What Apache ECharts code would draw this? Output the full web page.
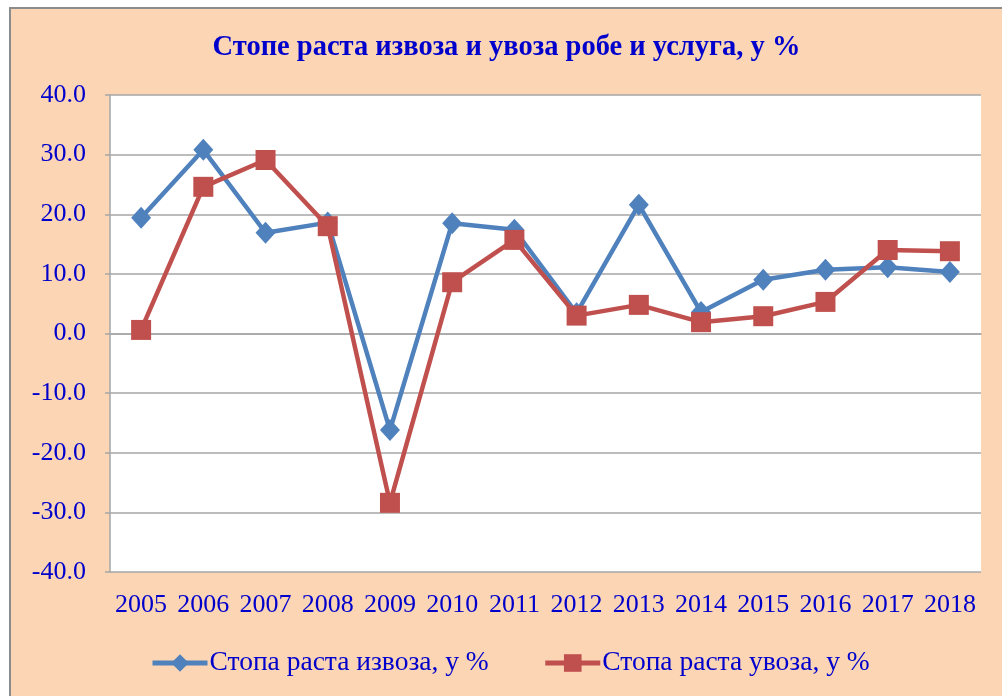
<!DOCTYPE html>
<html>
<head>
<meta charset="utf-8">
<script src="https://cdn.jsdelivr.net/npm/echarts@6/dist/echarts.min.js"></script>
<style>
  html, body { margin: 0; padding: 0; background: #fff; }
  #chart {
    margin-left: 9px;
    margin-top: 7px;
    border-left: 2px solid #8c8c8c;
    border-top: 2px solid #8c8c8c;
    width: 991px;
    height: 687px;
    background: #FCD5B4;
  }
</style>
</head>
<body>
<div id="chart"></div>
<script>
  // godine
  var years = ['2005','2006','2007','2008','2009','2010','2011','2012','2013','2014','2015','2016','2017','2018']
  // stopa rasta izvoza, %
  var exportRate = [19.4, 30.8, 16.9, 18.6, -16.2, 18.5, 17.4, 3.4, 21.6, 3.6, 9.0, 10.7, 11.1, 10.3]
  // stopa rasta uvoza, %
  var importRate = [0.6, 24.6, 29.1, 18.0, -28.4, 8.6, 15.7, 3.0, 4.8, 1.9, 2.9, 5.3, 14.0, 13.8]
  var yTicks = { min: -40, max: 40, interval: 10 }

  var textBlue = '#0000CC'
  var serif = '"Liberation Serif", "DejaVu Serif", serif'

  var chart = echarts.init(document.getElementById('chart'))
  chart.setOption({
    backgroundColor: '#FCD5B4',
    animation: false,
    title: {
      text: 'Стопе раста извоза и увоза робе и услуга, у %',
      left: 'center',
      top: 19,
      textStyle: { color: textBlue, fontFamily: serif, fontSize: 28.5, fontWeight: 'bold' }
    },
    grid: {
      left: 99,
      top: 86,
      right: 21,
      bottom: 124,
      show: true,
      backgroundColor: '#fff',
      borderWidth: 0
    },
    legend: {
      left: 134,
      top: 635,
      itemWidth: 55,
      itemHeight: 22,
      itemGap: 54,
      lineStyle: { width: 5 },
      textStyle: { color: textBlue, fontFamily: serif, fontSize: 27.5, padding: [0, 0, 0, -3] },
      data: ['Стопа раста извоза, у %', 'Стопа раста увоза, у %']
    },
    xAxis: {
      type: 'category',
      data: years,
      boundaryGap: true,
      axisLine: { show: true, lineStyle: { color: '#A6A6A6', width: 1.5 } },
      axisTick: { show: false },
      axisLabel: { color: textBlue, fontFamily: serif, fontSize: 26, margin: 20, interval: 0 }
    },
    yAxis: {
      type: 'value',
      min: yTicks.min,
      max: yTicks.max,
      interval: yTicks.interval,
      axisLine: { show: true, lineStyle: { color: '#A6A6A6', width: 1.5 } },
      axisTick: { show: true, inside: false, length: 5, lineStyle: { color: '#A6A6A6', width: 1.5 } },
      splitLine: { show: true, lineStyle: { color: '#A6A6A6', width: 1.5 } },
      axisLabel: {
        color: textBlue, fontFamily: serif, fontSize: 26, margin: 24,
        formatter: function (v) { return v.toFixed(1) }
      }
    },
    series: [
      {
        name: 'Стопа раста извоза, у %',
        type: 'line',
        data: exportRate,
        symbol: 'diamond',
        symbolSize: [20, 22],
        lineStyle: { color: '#4F81BD', width: 4.5 },
        itemStyle: { color: '#4F81BD' }
      },
      {
        name: 'Стопа раста увоза, у %',
        type: 'line',
        data: importRate,
        symbol: 'rect',
        symbolSize: 20,
        lineStyle: { color: '#C0504D', width: 4.5 },
        itemStyle: { color: '#C0504D' }
      }
    ]
  })
</script>
</body>
</html>
